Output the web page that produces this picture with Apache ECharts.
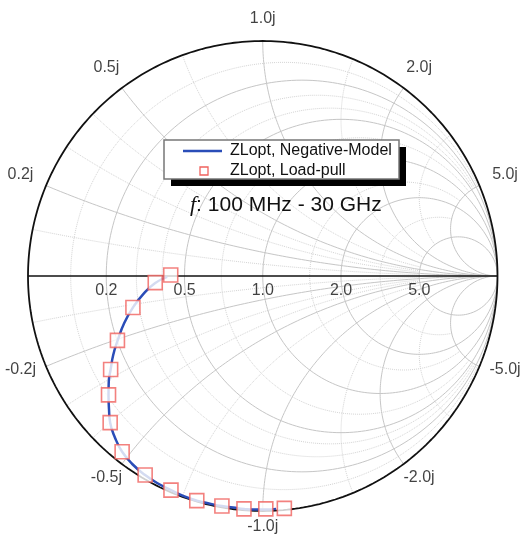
<!DOCTYPE html>
<html><head><meta charset="utf-8">
<script src="https://cdn.jsdelivr.net/npm/echarts@6/dist/echarts.min.js"></script>
<style>html,body{margin:0;padding:0;background:#fff}#c{width:521px;height:536px}</style>
</head><body><div id="c"></div>
<script>
// ---- data (reflection-coefficient plane: real, imaginary) ----
const loadPullRe = [-0.392,-0.458,-0.553,-0.619,-0.648,-0.657,-0.650,-0.599,-0.501,-0.391,-0.281,-0.174,-0.080,0.013,0.092];
const loadPullIm = [0.004,-0.028,-0.134,-0.274,-0.398,-0.506,-0.624,-0.748,-0.847,-0.911,-0.956,-0.979,-0.991,-0.991,-0.989];
const modelRe = [-0.407,-0.458,-0.509,-0.553,-0.590,-0.618,-0.637,-0.648,-0.656,-0.657,-0.655,-0.650,-0.629,-0.599,-0.556,-0.501,-0.450,-0.391,-0.339,-0.281,-0.229,-0.174,-0.126,-0.080,-0.033,0.014,0.057];
const modelIm = [-0.004,-0.030,-0.077,-0.134,-0.200,-0.274,-0.336,-0.398,-0.451,-0.506,-0.566,-0.624,-0.689,-0.748,-0.800,-0.847,-0.881,-0.911,-0.936,-0.956,-0.968,-0.979,-0.985,-0.991,-0.994,-0.994,-0.991];
const resistanceTicks = [0.2, 0.5, 1.0, 2.0, 5.0];
const resistanceLabels = ['0.2', '0.5', '1.0', '2.0', '5.0'];
const reactanceTicks = [0.2, 0.5, 1.0, 2.0, 5.0];
const reactanceLabels = ['0.2j', '0.5j', '1.0j', '2.0j', '5.0j'];
const negReactanceLabels = ['-0.2j', '-0.5j', '-1.0j', '-2.0j', '-5.0j'];
const minorResistance = [0.1, 0.3, 0.4, 0.7, 1.5, 3.0];
const minorReactance = [0.1, 0.3, 0.4, 0.7, 1.5, 3.0];
const seriesNames = ['ZLopt, Negative-Model', 'ZLopt, Load-pull'];
const annotation = '100 MHz - 30 GHz';

// ---- helpers ----
function gam(a, b) { const d = (a + 1) * (a + 1) + b * b; return [(a * a + b * b - 1) / d, 2 * b / d]; }
function rCircle(r, xmax) {
  const c = r / (r + 1), R = 1 / (r + 1);
  const h = isFinite(xmax) ? 2 * Math.atan(xmax / (r + 1)) : Math.PI;
  const pts = [], N = 240;
  for (let i = 0; i <= N; i++) { const p = Math.PI - h + 2 * h * i / N; pts.push([c + R * Math.cos(p), R * Math.sin(p)]); }
  return pts;
}
function xArc(x, rmax) {
  const ax = Math.abs(x), pts = [], N = 240;
  const p0 = Math.atan(1 / ax), p1 = isFinite(rmax) ? Math.atan((rmax + 1) / ax) : Math.PI / 2;
  for (let i = 0; i <= N; i++) {
    const p = p0 + (p1 - p0) * i / N;
    if (p >= Math.PI / 2 - 1e-9) { pts.push([1, 0]); continue; }
    const r = ax * Math.tan(p) - 1; pts.push(gam(Math.max(r, 0), x));
  }
  return pts;
}
const gridSeries = [];
function addGrid(pts, major) {
  gridSeries.push({ type: 'line', data: pts, showSymbol: false, symbol: 'none', silent: true, z: 1,
    lineStyle: major ? { color: '#c6c6c6', width: 1 } : { color: '#d4d4d4', width: 1, type: 'dotted' } });
}
minorResistance.forEach(r => addGrid(rCircle(r, 5), false));
minorReactance.forEach(x => { addGrid(xArc(x, 5), false); addGrid(xArc(-x, 5), false); });
resistanceTicks.forEach(r => addGrid(rCircle(r, Infinity), true));
reactanceTicks.forEach(x => { addGrid(xArc(x, Infinity), true); addGrid(xArc(-x, Infinity), true); });

const unit = []; for (let i = 0; i <= 360; i++) { const a = i * Math.PI / 180; unit.push([Math.cos(a), Math.sin(a)]); }

const rLabelData = resistanceTicks.map((r, i) => ({ value: [(r - 1) / (r + 1), 0], name: resistanceLabels[i] }));
const xLabelData = [];
reactanceTicks.forEach((x, i) => {
  [1, -1].forEach(s => {
    const g = gam(0, s * x); const th = Math.atan2(g[1], g[0]);
    const rho = 1.095 + 0.025 * Math.abs(Math.cos(th));
    xLabelData.push({ value: [rho * Math.cos(th), rho * Math.sin(th)], name: s > 0 ? reactanceLabels[i] : negReactanceLabels[i],
      label: { offset: [0, s > 0 ? 0 : -7] } });
  });
});

const FONT = 'Arial, "Liberation Sans", sans-serif';
const labelFont = { fontFamily: FONT, fontSize: 16, color: '#111' };
const BLUE = '#2a4db8', RED = '#f0625e';

const chart = echarts.init(document.getElementById('c'), null, { renderer: 'canvas' });
chart.setOption({
  animation: false,
  backgroundColor: '#fff',
  grid: { left: 28, right: 23.5, top: 41, bottom: 25 },
  xAxis: { type: 'value', min: -1, max: 1, show: false },
  yAxis: { type: 'value', min: -1, max: 1, show: false },
  title: {
    text: '{f|f}: ' + annotation, left: 185, top: 189,
    textStyle: { fontFamily: FONT, fontSize: 21, fontWeight: 'normal', color: '#111',
      rich: { f: { fontFamily: '"Liberation Serif", "DejaVu Serif", serif', fontStyle: 'italic', fontSize: 22, color: '#111' } } }
  },
  graphic: [
    { type: 'rect', shape: { x: 171, y: 147, width: 235, height: 39 }, style: { fill: '#000' }, z: 20 },
    { type: 'rect', shape: { x: 164, y: 140, width: 235, height: 39 }, style: { fill: '#fff', stroke: '#777', lineWidth: 1.5 }, z: 21 },
    { type: 'line', shape: { x1: 183, y1: 151, x2: 222, y2: 151 }, style: { stroke: BLUE, lineWidth: 2.5 }, z: 22 },
    { type: 'rect', shape: { x: 200, y: 167, width: 8, height: 8 }, style: { fill: '#fff', stroke: RED, lineWidth: 1.3 }, z: 22 },
    { type: 'text', x: 230, y: 151, style: { text: seriesNames[0], font: '16px ' + FONT, fill: '#111', verticalAlign: 'middle' }, z: 22 },
    { type: 'text', x: 230, y: 171, style: { text: seriesNames[1], font: '16px ' + FONT, fill: '#111', verticalAlign: 'middle' }, z: 22 }
  ],
  series: gridSeries.concat([
    { type: 'line', data: [[-1, 0], [1, 0]], symbol: 'none', silent: true, z: 3, lineStyle: { color: '#111', width: 1.6 } },
    { type: 'line', data: unit, symbol: 'none', silent: true, z: 3, lineStyle: { color: '#111', width: 1.8 } },
    { type: 'scatter', data: rLabelData, symbolSize: 0, silent: true, z: 4, clip: false,
      label: Object.assign({ show: true, position: 'bottom', distance: 7, formatter: '{b}' }, labelFont) },
    { type: 'scatter', data: xLabelData, symbolSize: 0, silent: true, z: 4, clip: false,
      label: Object.assign({ show: true, position: 'inside', formatter: '{b}' }, labelFont) },
    { name: seriesNames[0], type: 'line', data: modelRe.map((v, i) => [v, modelIm[i]]), symbol: 'none', smooth: true, z: 5,
      lineStyle: { color: BLUE, width: 2.5 }, itemStyle: { color: BLUE } },
    { name: seriesNames[1], type: 'scatter', data: loadPullRe.map((v, i) => [v, loadPullIm[i]]), symbol: 'rect', symbolSize: 14, z: 6,
      itemStyle: { color: '#fff', borderColor: RED, borderWidth: 1.6 } }
  ])
});
</script></body></html>
